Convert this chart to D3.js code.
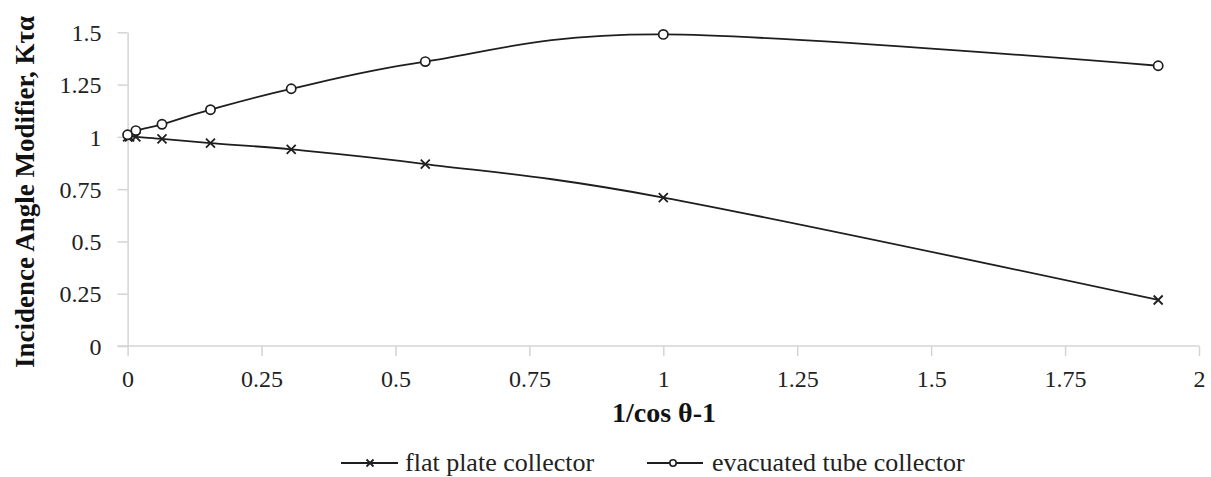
<!DOCTYPE html>
<html><head><meta charset="utf-8">
<script src="https://cdn.jsdelivr.net/npm/d3@7"></script>
<style>html,body{margin:0;padding:0;background:#fff;}svg{display:block;}</style>
</head><body>
<svg id="chart" width="1211" height="477"></svg>
<script>
// Data (x = 1/cosθ − 1 for θ = 0,5,10,20,...,70°)
const flatX = [0, 0.0038, 0.0154, 0.0642, 0.1547, 0.3054, 0.5557, 1.0, 1.9238];
const flatY = [1.00, 1.00, 1.00, 0.99, 0.97, 0.94, 0.87, 0.71, 0.22];
const evacX = [0, 0.0154, 0.0642, 0.1547, 0.3054, 0.5557, 1.0, 1.9238];
const evacY = [1.01, 1.03, 1.06, 1.13, 1.23, 1.36, 1.49, 1.34];
const xTicks = [0, 0.25, 0.5, 0.75, 1, 1.25, 1.5, 1.75, 2];
const xTickLabels = ["0", "0.25", "0.5", "0.75", "1", "1.25", "1.5", "1.75", "2"];
const yTicks = [0, 0.25, 0.5, 0.75, 1, 1.25, 1.5];
const yTickLabels = ["0", "0.25", "0.5", "0.75", "1", "1.25", "1.5"];
const seriesNames = ["flat plate collector", "evacuated tube collector"];

const svg = d3.select("#chart");
const serif = "'Liberation Serif','Times New Roman',serif";
const axisColor = "#d4d4d4";
const ink = "#1e1e1e";

const x = d3.scaleLinear().domain([0, 2]).range([127.6, 1199]);
const y = d3.scaleLinear().domain([0, 1.5]).range([346, 32.3]);

// X axis
const xAxis = svg.append("g").attr("transform", `translate(0,${y(0)})`)
  .call(d3.axisBottom(x).tickValues(xTicks).tickFormat((d, i) => xTickLabels[i]).tickSize(10).tickSizeOuter(0));
xAxis.select(".domain").remove();
xAxis.append("line").attr("x1", x(0) - 10).attr("x2", x(2)).attr("stroke", axisColor).attr("stroke-width", 1.5);
xAxis.selectAll(".tick line").attr("stroke", axisColor).attr("stroke-width", 1.5);
xAxis.selectAll(".tick text").attr("fill", "#222").attr("font-family", serif).attr("font-size", 24).attr("dy", "1.15em");

// Y axis
const yAxis = svg.append("g").attr("transform", `translate(${x(0)},0)`)
  .call(d3.axisLeft(y).tickValues(yTicks).tickFormat((d, i) => yTickLabels[i]).tickSize(10).tickSizeOuter(0));
yAxis.select(".domain").attr("stroke", axisColor).attr("stroke-width", 1.5);
yAxis.selectAll(".tick line").attr("stroke", axisColor).attr("stroke-width", 1.5);
yAxis.selectAll(".tick text").attr("fill", "#222").attr("font-family", serif).attr("font-size", 24).attr("x", -26).attr("dy", "0.34em");

// Lines
const line = d3.line().x(d => x(d[0])).y(d => y(d[1])).curve(d3.curveCardinal.tension(0));
const flatData = flatX.map((v, i) => [v, flatY[i]]);
const evacData = evacX.map((v, i) => [v, evacY[i]]);

svg.append("path").datum(flatData).attr("d", line).attr("fill", "none").attr("stroke", ink).attr("stroke-width", 1.8);
svg.append("path").datum(evacData).attr("d", line).attr("fill", "none").attr("stroke", ink).attr("stroke-width", 1.8);

function xMark(g, cx, cy, s) {
  g.append("path").attr("d", `M${cx - s},${cy - s}L${cx + s},${cy + s}M${cx - s},${cy + s}L${cx + s},${cy - s}`)
    .attr("stroke", ink).attr("stroke-width", 1.8).attr("fill", "none");
}
const mk = svg.append("g");
flatData.forEach(d => xMark(mk, x(d[0]), y(d[1]), 4.5));
mk.selectAll("circle.ev").data(evacData).enter().append("circle")
  .attr("cx", d => x(d[0])).attr("cy", d => y(d[1])).attr("r", 4.6)
  .attr("fill", "#fff").attr("stroke", ink).attr("stroke-width", 1.7);

// Axis titles
svg.append("text").attr("x", 664).attr("y", 422).attr("text-anchor", "middle")
  .attr("font-family", serif).attr("font-weight", "bold").attr("font-size", 28).attr("fill", "#111")
  .text("1/cos θ-1");

svg.append("text").attr("transform", "translate(34,192) rotate(-90)").attr("text-anchor", "middle")
  .attr("font-family", serif).attr("font-weight", "bold").attr("font-size", 27).attr("fill", "#111")
  .text("Incidence Angle Modifier, Kτα");

// Legend
const lg = svg.append("g");
const ly = 463;
lg.append("line").attr("x1", 341).attr("x2", 398).attr("y1", ly).attr("y2", ly).attr("stroke", ink).attr("stroke-width", 1.8);
xMark(lg, 370, ly, 3.5);
lg.append("text").attr("x", 405).attr("y", ly + 8).attr("font-family", serif).attr("font-size", 26).attr("fill", "#222").text(seriesNames[0]);
lg.append("line").attr("x1", 647).attr("x2", 703).attr("y1", ly).attr("y2", ly).attr("stroke", ink).attr("stroke-width", 1.8);
lg.append("circle").attr("cx", 673).attr("cy", ly).attr("r", 3.2).attr("fill", "#fff").attr("stroke", ink).attr("stroke-width", 1.6);
lg.append("text").attr("x", 712).attr("y", ly + 8).attr("font-family", serif).attr("font-size", 26).attr("fill", "#222").text(seriesNames[1]);
</script>
</body></html>
